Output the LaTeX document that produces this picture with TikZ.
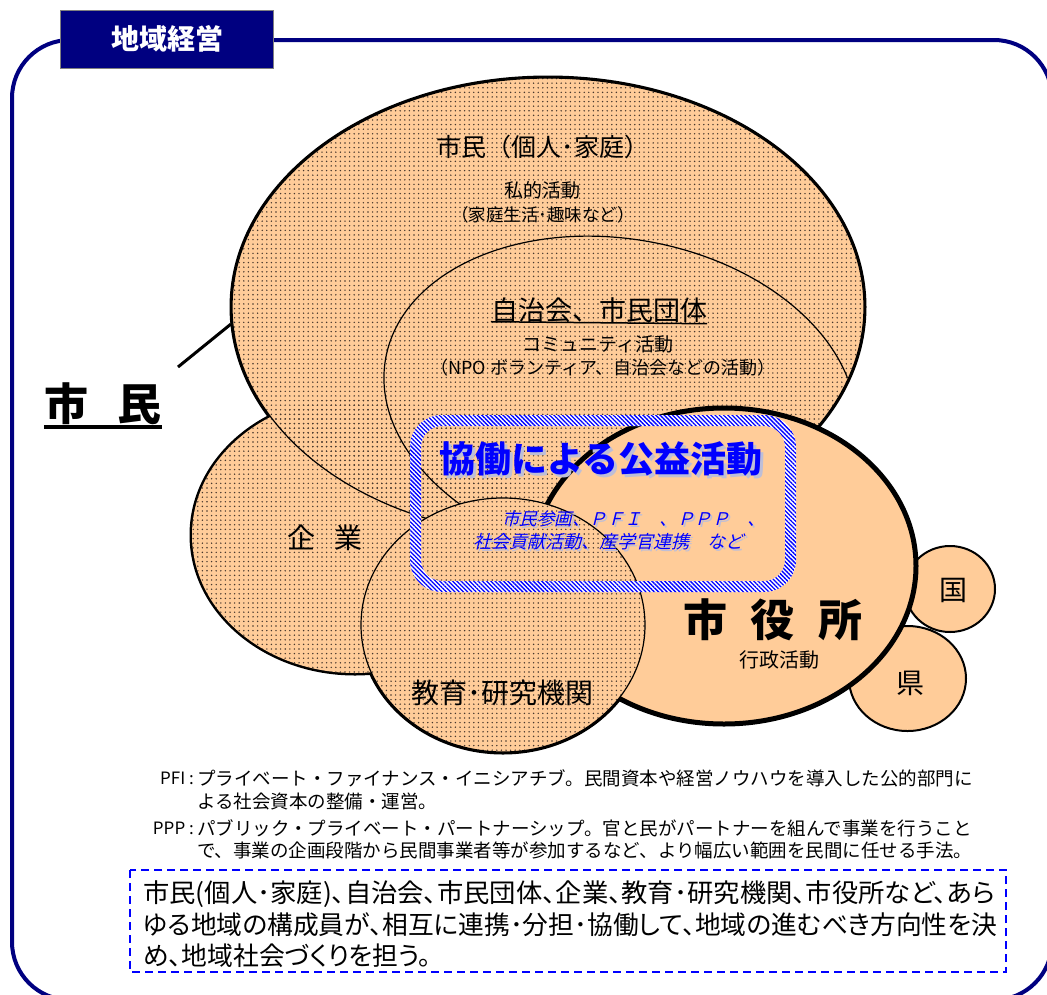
\documentclass[tikz,border=0pt]{standalone}
\usepackage{fontspec}
\usepackage{graphicx}
\setmainfont{Noto Sans CJK JP}
\newfontfamily\jpit{Noto Sans CJK JP}[FakeSlant=0.25]
\newfontfamily\jpp{Noto Sans CJK JP}[RawFeature=+palt]
\usetikzlibrary{patterns.meta}
\definecolor{peach}{RGB}{255,204,153}
\definecolor{navyc}{RGB}{0,0,128}
\definecolor{dotc}{RGB}{70,55,45}
\definecolor{shadowc}{RGB}{190,190,215}
\newcommand\setfs[1]{\fontsize{#1pt}{#1pt}\selectfont}
\newcommand\shadowtext[2]{\makebox[0pt][l]{\hspace{#1}\raisebox{-#1}{\textcolor{shadowc}{#2}}}#2}
\tikzset{
  dotted area/.style={pattern={Dots[distance=4.6pt,radius=0.8pt]},pattern color=dotc},
  thickline/.style={draw=black,line width=5pt},
  thinline/.style={draw=black,line width=1.2pt},
  lbl/.style={inner sep=0pt,text=black},
  foot/.style={inner sep=0pt,anchor=west,font=\setfs{18.5}},
  desc/.style={inner sep=0pt,anchor=west,font=\jpp\setfs{25.8}},
}
\begin{document}
\begin{tikzpicture}[x=1pt,y=-1pt]
\useasboundingbox (0,0) rectangle (1047,994);
% frame
\draw[navyc,line width=4pt,rounded corners=58pt] (12,40) rectangle (1052,1000);
\node[fill=navyc,draw=gray,line width=0.8pt,minimum width=213pt,minimum height=58pt,inner sep=0pt,text=white,font=\bfseries\setfs{28}] (title) at (167,39) {地域経営};

% ---- dotted group: thick outlines first
\path[thickline] (355,535) ellipse [x radius=163, y radius=138];
\path[thickline] (548,307) ellipse [x radius=316, y radius=229];
\path[thickline] (503,625) ellipse [x radius=142, y radius=127];
% fills
\path[fill=peach] (355,535) ellipse [x radius=163, y radius=138];
\path[fill=peach] (548,307) ellipse [x radius=316, y radius=229];
\path[dotted area] (355,535) ellipse [x radius=163, y radius=138];
\path[dotted area] (548,307) ellipse [x radius=316, y radius=229];
\path[thinline] (548,307) ellipse [x radius=316, y radius=229];
\begin{scope}
  \clip (548,307) ellipse [x radius=315, y radius=228];
  \path[thinline,rotate around={-10:(620,400)}] (620,400) ellipse [x radius=238, y radius=161];
\end{scope}

% kuni / ken
\path[fill=peach,draw=black,line width=2pt] (950,589) ellipse [x radius=45, y radius=43];
\path[fill=peach,draw=black,line width=2pt] (907.5,678.5) ellipse [x radius=58.5, y radius=52.5];

% shiyakusho
\path[fill=peach,draw=black,line width=5pt] (724,566) ellipse [x radius=192, y radius=158];

% kyouiku
\path[fill=peach] (503,625) ellipse [x radius=142, y radius=127];
\path[dotted area] (503,625) ellipse [x radius=142, y radius=127];
\path[thinline] (503,625) ellipse [x radius=142, y radius=127];

% kyodo box
\path[fill=white,even odd rule] [rounded corners=32pt] (410,415) rectangle (796,592) [rounded corners=21pt] (421,426) rectangle (785,581);
\path[pattern={Lines[angle=-45,distance=3pt,line width=1.3pt]},pattern color=blue,even odd rule] [rounded corners=32pt] (410,415) rectangle (796,592) [rounded corners=21pt] (421,426) rectangle (785,581);

\node[lbl,text=blue,font=\bfseries\setfs{36}] (kyodo) at (601,460) {\shadowtext{3pt}{協働による公益活動}};
\node[lbl,anchor=west,text=blue,font=\jpit\setfs{17.5}] (ex1) at (502,520) {\shadowtext{2pt}{市民参画、ＰＦＩ　、ＰＰＰ　、}};
\node[lbl,anchor=west,text=blue,font=\jpit\setfs{18}] (ex2) at (473,543) {\shadowtext{2pt}{社会貢献活動、産学官連携　など}};

% labels
\node[lbl,font=\setfs{25}] (kojin) at (543,147) {市民（個人･家庭）};
\node[lbl,font=\setfs{19}] (shiteki) at (542,190) {私的活動};
\node[lbl,font=\setfs{17.5}] (katei) at (543,215) {（家庭生活･趣味など）};
\node[lbl,font=\setfs{27}] (jichi) at (599,310) {自治会、市民団体};
\draw[line width=1.5pt] (jichi.south west) ++(0,-1) -- ([yshift=-1pt]jichi.south east);
\node[lbl,font=\setfs{19}] (comm) at (598,344) {コミュニティ活動};
\node[lbl,font=\setfs{18}] (npo) at (603,368) {（NPO ボランティア、自治会などの活動）};

\node[lbl,font=\bfseries\setfs{44}] (shimin) at (103,404) {市\hspace{30pt}民};
\draw[line width=4pt] ([yshift=-2pt]shimin.south west) -- ([yshift=-2pt]shimin.south east);
\coordinate (leadA) at (178,367);
\coordinate (leadB) at (231,324);
\draw[line width=3pt] (leadA) -- (leadB);

\node[lbl,font=\setfs{28}] (kigyo) at (325,538) {企\hspace{20pt}業};
\node[lbl,font=\setfs{28}] (kyoiku) at (502,693) {教育･研究機関};
\node[lbl,font=\bfseries\setfs{44}] (shiyaku) at (773,620) {市\hspace{24pt}役\hspace{24pt}所};
\node[lbl,font=\setfs{20}] (gyosei) at (779,660) {行政活動};
\node[lbl,font=\setfs{28}] (kuni) at (953,590) {国};
\node[lbl,font=\setfs{28}] (ken) at (910,683) {県};

% footnotes
\node[lbl,anchor=east,font=\setfs{17}] (pfi) at (194,778) {PFI :};
\node[foot] (f1) at (197,778) {プライベート・ファイナンス・イニシアチブ。民間資本や経営ノウハウを導入した公的部門に};
\node[foot] (f2) at (197,801) {よる社会資本の整備・運営。};
\node[lbl,anchor=east,font=\setfs{17}] (ppp) at (194,828) {PPP :};
\node[foot] (f3) at (197,828) {パブリック・プライベート・パートナーシップ。官と民がパートナーを組んで事業を行うこと};
\node[foot] (f4) at (197,850) {で、事業の企画段階から民間事業者等が参加するなど、より幅広い範囲を民間に任せる手法。};

% description
\draw[blue,line width=2pt,dash pattern=on 8pt off 5pt] (130,870) rectangle (1006,972);
\node[desc] (d1) at (143,894) {\resizebox{852pt}{\height}{市民(個人･家庭)、自治会、市民団体、企業、教育･研究機関、市役所など、あら}};
\node[desc] (d2) at (143,925) {\resizebox{854pt}{\height}{ゆる地域の構成員が、相互に連携･分担･協働して、地域の進むべき方向性を決}};
\node[desc] (d3) at (143,956) {め、地域社会づくりを担う。};
\end{tikzpicture}
\end{document}
